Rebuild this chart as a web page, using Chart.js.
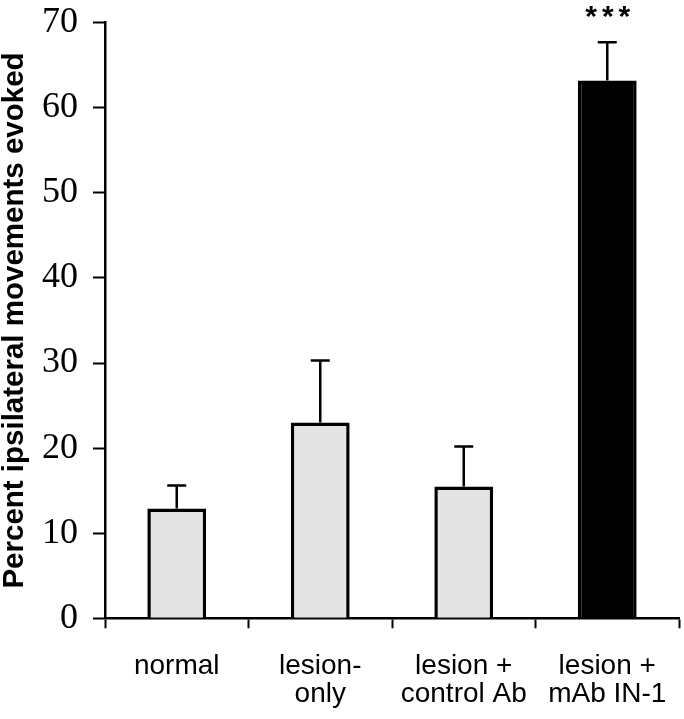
<!DOCTYPE html>
<html>
<head>
<meta charset="utf-8">
<script src="https://cdn.jsdelivr.net/npm/chart.js@4/dist/chart.umd.min.js"></script>
<style>
  html, body { margin: 0; padding: 0; background: #fff; }
  #wrap { width: 684px; height: 719px; }
</style>
</head>
<body>
<div id="wrap"><canvas id="chart" width="684" height="719"></canvas></div>
<script>
// Data
const groups = [['normal'], ['lesion-', 'only'], ['lesion +', 'control Ab'], ['lesion +', 'mAb IN-1']];
const meanPct = [12.9, 23.0, 15.5, 63.2];
const errPct = [2.7, 7.3, 4.7, 4.5];
const marks = ['', '', '', '***'];
const yMin = 0, yMax = 70, yStep = 10;
const barColors = ['#e4e4e4', '#e4e4e4', '#e4e4e4', '#000000'];

// Error bars + significance stars, positioned via chart scales
const errorBars = {
  id: 'errorBars',
  afterDatasetsDraw(chart) {
    const { ctx, scales: { x, y } } = chart;
    ctx.save();
    ctx.strokeStyle = '#000';
    ctx.lineWidth = 2.5;
    meanPct.forEach((m, i) => {
      const px = x.getPixelForValue(i);
      const top = y.getPixelForValue(m + errPct[i]);
      const base = y.getPixelForValue(m);
      ctx.beginPath();
      ctx.moveTo(px, base);
      ctx.lineTo(px, top);
      ctx.moveTo(px - 9.5, top);
      ctx.lineTo(px + 9.5, top);
      ctx.stroke();
      if (marks[i]) {
        ctx.fillStyle = '#000';
        ctx.font = 'bold 30px "Liberation Sans", Arial, sans-serif';
        ctx.letterSpacing = '5px';
        ctx.textAlign = 'center';
        ctx.textBaseline = 'alphabetic';
        ctx.fillText(marks[i], px + 3, top - 16);
      }
    });
    ctx.restore();
  }
};

new Chart(document.getElementById('chart'), {
  type: 'bar',
  data: {
    labels: groups,
    datasets: [{
      data: meanPct,
      backgroundColor: barColors,
      borderColor: '#000',
      borderWidth: 3.5,
      barPercentage: 0.41,
      categoryPercentage: 1.0
    }]
  },
  options: {
    responsive: false,
    animation: false,
    layout: { padding: { top: 22.7, right: 5, left: 0, bottom: 0 } },
    plugins: { legend: { display: false }, tooltip: { enabled: false } },
    scales: {
      x: {
        offset: true,
        afterFit(scale) {
          scale.height = 100.7;
          scale.paddingLeft = 0;
          scale.paddingRight = 0;
        },
        grid: {
          display: true, drawOnChartArea: false, offset: true,
          tickLength: 10, tickWidth: 2, tickColor: '#000'
        },
        border: { display: true, color: '#000', width: 2.5 },
        ticks: {
          color: '#000', padding: 24, maxRotation: 0,
          font: { family: '"Liberation Sans", Arial, sans-serif', size: 28, lineHeight: 1.0 }
        }
      },
      y: {
        min: yMin, max: yMax,
        afterFit(scale) {
          scale.width = 105;
          scale.paddingTop = 0;
          scale.paddingBottom = 0;
        },
        grid: {
          display: true, drawOnChartArea: false,
          tickLength: 12, tickWidth: 2, tickColor: '#000'
        },
        border: { display: true, color: '#000', width: 2.5 },
        ticks: {
          stepSize: yStep, color: '#000', padding: 15,
          font: { family: '"Liberation Serif", "Times New Roman", serif', size: 36 }
        },
        title: {
          display: true,
          text: 'Percent ipsilateral movements evoked',
          color: '#000',
          padding: 0,
          font: { family: '"Liberation Sans", Arial, sans-serif', size: 29.5, weight: 'bold', lineHeight: 1.0 }
        }
      }
    }
  },
  plugins: [errorBars]
});
</script>
</body>
</html>
